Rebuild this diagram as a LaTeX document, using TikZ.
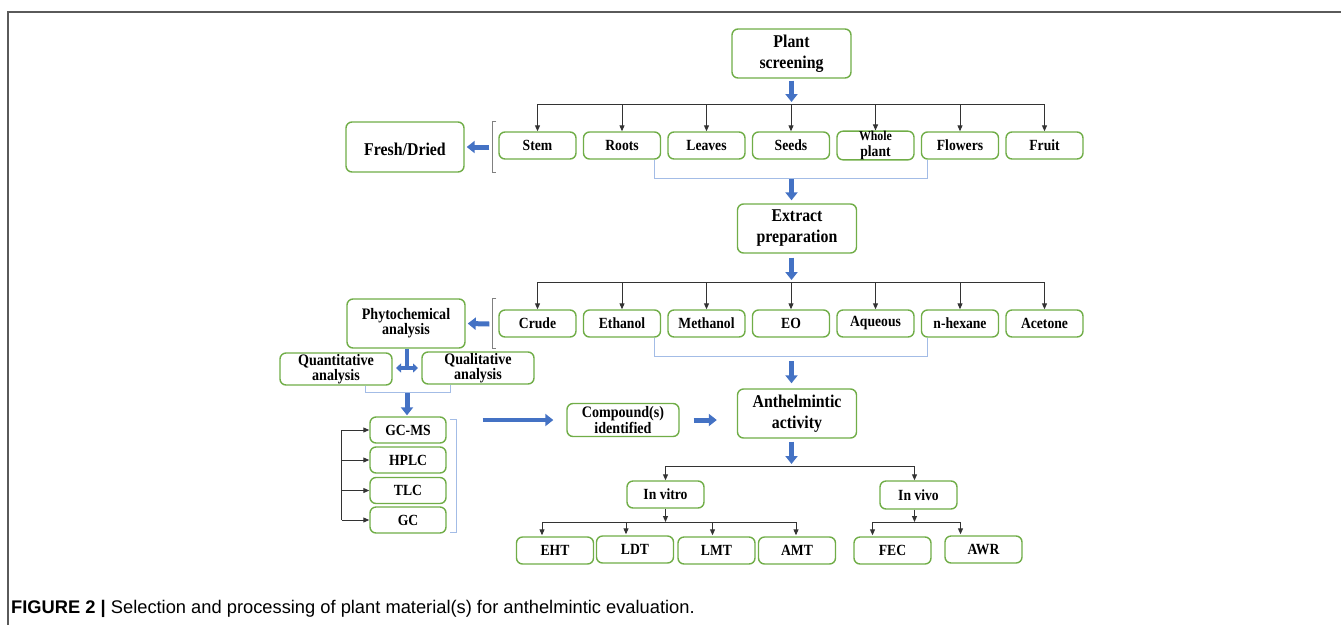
\documentclass[tikz,border=0pt]{standalone}
\usepackage{fontspec}
\setmainfont{Liberation Serif}
\newfontfamily\boxfont[FakeStretch=0.88]{Liberation Serif}
\newfontfamily\capfont{Liberation Sans}
\usetikzlibrary{arrows.meta,calc}
\definecolor{boxgreen}{HTML}{70AD47}
\definecolor{arrblue}{HTML}{4472C4}
\definecolor{brkblue}{HTML}{A3BCE6}
\definecolor{framegray}{HTML}{5A5A5A}

\begin{document}
\begin{tikzpicture}[
  x=1pt, y=-1pt,
  rbox/.style={draw=boxgreen,line width=1.4pt,rounded corners=6pt,fill=white,align=center,inner sep=0pt,text=black},
  bigbox/.style={rbox,minimum width=119pt,minimum height=49pt,font={\boxfont\bfseries\fontsize{18}{21}\selectfont},
    execute at begin node={\rule{0pt}{18pt}}},
  midbox/.style={rbox,minimum width=112pt,minimum height=32pt,font={\boxfont\bfseries\fontsize{16}{15}\selectfont}},
  smallbox/.style={rbox,minimum width=77pt,minimum height=27pt,font={\boxfont\bfseries\fontsize{15.5}{16}\selectfont}},
  conn/.style={draw=black!80,line width=1pt},
  arr/.style={conn,-{Triangle[length=6pt,width=5pt]}},
  bluearr/.style={draw=arrblue,line width=5pt,-{Triangle[length=8pt,width=12pt]}},
  brk/.style={draw=gray,line width=0.9pt},
  bbrk/.style={draw=brkblue,line width=1pt}
]
\useasboundingbox (0,0) rectangle (1341,625);
\draw[framegray,line width=1.3pt] (1341,12) -- (8,12) -- (8,625);

% plant material
\node[bigbox] (plant) at (791.5,53.5) {Plant\\screening};
\node[bigbox,minimum width=118pt,minimum height=50pt] (fresh) at (405,147) {Fresh/Dried};
\foreach \n/\t [count=\i from 0] in {stem/Stem,roots/Roots,leaves/Leaves,seeds/Seeds,
    whole/{\fontsize{13.5}{14}\selectfont Whole\\plant},flowers/Flowers,fruit/Fruit}
  \node[smallbox] (\n) at ({537.5+84.5*\i},145.5) {\t};

\coordinate (busA) at (791.5,104);
\draw[bluearr,shorten <=2pt,shorten >=2pt] (plant) -- (busA);
\draw[conn] (stem.north |- busA) -- (fruit.north |- busA);
\foreach \n in {stem,roots,leaves,seeds,whole,flowers,fruit}
  \draw[arr] (\n.north |- busA) -- (\n.north);
\draw[brk] ($(stem.west |- fresh.north)+(-2,0)$) -- ++(-4,0) |- ($(stem.west |- fresh.south)+(-2,0)$);
\draw[bluearr] ($(stem.west)+(-9,1.5)$) -- ($(fresh.east)+(2,0)$);
\draw[bbrk] ($(roots.south east)+(-7,0)$) -- ++(0,19) -| ($(flowers.south west)+(7,0)$);

% extracts
\node[bigbox] (extract) at (797,228.5) {Extract\\preparation};
\coordinate (brA) at (791.5,178);
\draw[bluearr,shorten <=1pt,shorten >=3pt] (brA) -- (brA |- extract.north);
\foreach \n/\t [count=\i from 0] in {crude/Crude,ethanol/Ethanol,methanol/Methanol,eo/EO,
    aqueous/Aqueous,hexane/n-hexane,acetone/Acetone}
  \node[smallbox] (\n) at ({537.5+84.5*\i},323.5) {\t};
\coordinate (busB) at (791.5,282);
\draw[bluearr,shorten <=4pt,shorten >=2pt] (busB |- extract.south) -- (busB);
\draw[conn] (crude.north |- busB) -- (acetone.north |- busB);
\foreach \n in {crude,ethanol,methanol,eo,aqueous,hexane,acetone}
  \draw[arr] (\n.north |- busB) -- (\n.north);

\node[midbox,minimum width=118pt,minimum height=49pt] (phyto) at (406,323.5) {Phytochemical\\analysis};
\draw[brk] ($(crude.west |- phyto.north)+(-2,0)$) -- ++(-4,0) |- ($(crude.west |- phyto.south)+(-2,0)$);
\draw[bluearr] ($(crude.west)+(-9,0.5)$) -- ($(phyto.east)+(2,0)$);
\draw[bbrk] ($(ethanol.south east)+(-7,0)$) -- ++(0,19) -| ($(hexane.south west)+(7,0)$);

% phytochemical analysis
\node[midbox] (quant) at (336,369) {Quantitative\\analysis};
\node[midbox] (qual) at (478,368) {Qualitative\\analysis};
\coordinate (tee) at (407,368);
\draw[arrblue,line width=4.5pt] (phyto.south -| tee) -- (tee);
\draw[arrblue,line width=3.5pt,{Triangle[length=5pt,width=9pt]}-{Triangle[length=5pt,width=9pt]}]
  ($(tee)+(-11,0)$) -- ($(tee)+(11,0)$);
\draw[bbrk] ($(quant.south)+(29,0)$) -- ++(0,7) -| ($(qual.south)+(-28,0)$);

\foreach \n/\t/\y in {gcms/GC-MS/430,hplc/HPLC/460,tlc/TLC/490.5,gc/GC/520}
  \node[smallbox,minimum width=76pt,minimum height=26pt] (\n) at (408,\y) {\t};
\coordinate (brC) at (407,392);
\draw[bluearr,shorten <=1pt,shorten >=1pt] (brC) -- (brC |- gcms.north);
\coordinate (busL) at (341.5,430);
\draw[conn] (busL |- gcms.west) -- (busL |- gc.west);
\foreach \n in {gcms,hplc,tlc,gc}
  \draw[arr] (busL |- \n.west) -- (\n.west);
\draw[bbrk] ($(gcms.north east)+(3,3)$) -- ++(7,0) |- ($(gc.south east)+(3,-1)$);

% activity
\node[midbox,minimum height=33pt,font={\boxfont\bfseries\fontsize{16}{16.5}\selectfont}] (comp) at (623,420) {Compound(s)\\identified};
\node[bigbox] (anth) at (797,413.5) {Anthelmintic\\activity};
\draw[bluearr,line width=4.5pt,shorten <=36pt,shorten >=13pt] (gcms.east |- comp) -- (comp.west);
\draw[bluearr,shorten <=14pt,shorten >=20pt] (comp.east) -- (comp.east -| anth.west);
\coordinate (brB) at (791.5,356);
\draw[bluearr,shorten <=5pt,shorten >=5pt] (brB) -- (brB |- anth.north);

\node[smallbox,minimum height=27pt] (invitro) at (665.5,494.5) {In vitro};
\node[smallbox,minimum height=28pt] (invivo) at (918.5,495) {In vivo};
\coordinate (busC) at (791.5,466);
\draw[bluearr,shorten <=3pt,shorten >=2pt] (busC |- anth.south) -- (busC);
\draw[conn] (invitro.north |- busC) -- ($(invivo.north |- busC)+(-4,0)$);
\draw[arr] (invitro.north |- busC) -- (invitro.north);
\draw[arr] ($(invivo.north |- busC)+(-4,0)$) -- ($(invivo.north)+(-4,0)$);

\foreach \n/\t/\x/\y in {eht/EHT/555/550.5,ldt/LDT/635/549.5,lmt/LMT/716.5/550.5,amt/AMT/797/550.5,
    fec/FEC/892.5/550.5,awr/AWR/983.5/549.5}
  \node[smallbox] (\n) at (\x,\y) {\t};
\coordinate (busD) at (665.5,522);
\draw[arr] (invitro.south) -- (invitro.south |- busD);
\draw[conn] ($(eht.north |- busD)+(-13,0)$) -- ($(amt.north |- busD)+(-1,0)$);
\foreach \n/\dx in {eht/-13,ldt/-9,lmt/-4,amt/-1}
  \draw[arr] ($(\n.north |- busD)+(\dx,0)$) -- ($(\n.north)+(\dx,-1)$);
\draw[arr] ($(invivo.south)+(-4,0)$) -- ($(invivo.south |- busD)+(-4,0)$);
\draw[conn] ($(fec.north |- busD)+(-20,0)$) -- ($(awr.north |- busD)+(-23,0)$);
\foreach \n/\dx in {fec/-20,awr/-23}
  \draw[arr] ($(\n.north |- busD)+(\dx,0)$) -- ($(\n.north)+(\dx,-1)$);

\node[anchor=base west,inner sep=0pt,font={\capfont\fontsize{18.3}{20}\selectfont}] (caption) at (11,613)
  {\textbf{FIGURE 2 |} Selection and processing of plant material(s) for anthelmintic evaluation.};
\end{tikzpicture}
\end{document}
